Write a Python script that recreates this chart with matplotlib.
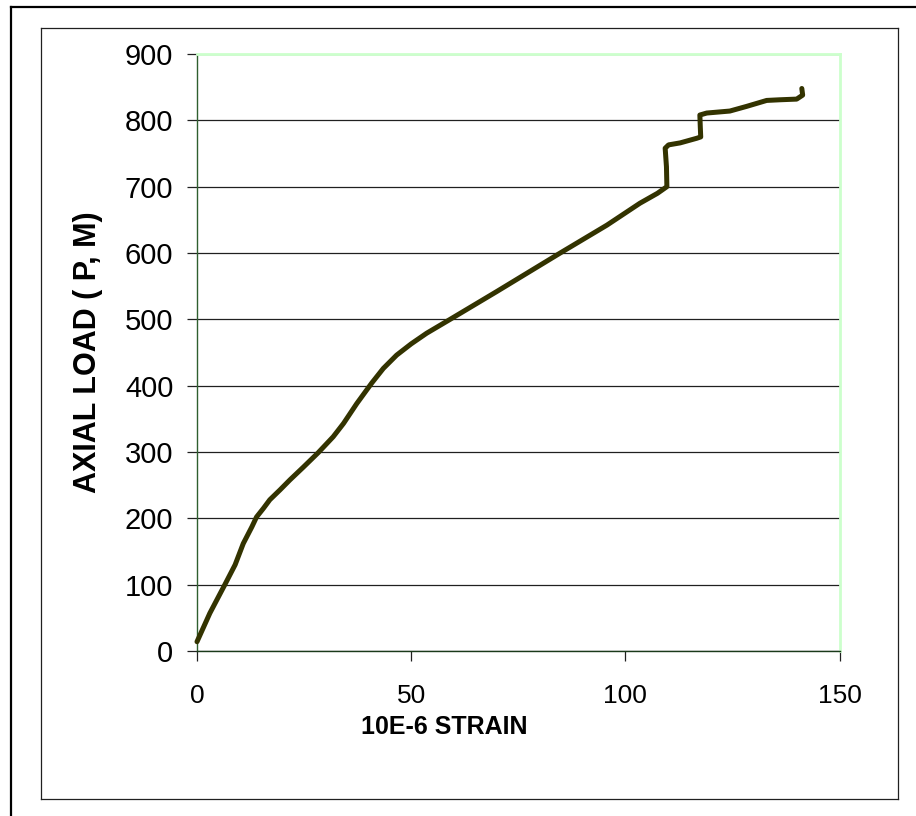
import matplotlib
matplotlib.use("Agg")
import matplotlib.pyplot as plt
from matplotlib.lines import Line2D

plt.rcParams['font.family'] = ['Liberation Sans', 'DejaVu Sans']

strain = [0.0, 3.0, 6.5, 8.9, 10.8, 12.8, 13.9, 15.5, 17.0, 19.4, 21.7, 24.8,
          28.3, 31.8, 34.2, 37.3, 40.8, 43.5, 46.6, 50.0, 53.6, 59.1, 70.0,
          84.8, 95.7, 103.4, 107.5, 109.7, 109.6, 109.3, 110.1, 112.8, 116.7,
          117.6, 117.5, 117.4, 119.0, 124.4, 128.3, 133.0, 136.1, 140.0,
          141.4, 141.2]
load = [14, 57, 100, 130, 162, 187, 202, 215, 228, 243, 258, 277,
        299, 323, 343, 373, 404, 426, 446, 463, 479, 500, 542,
        600, 642, 675, 690, 700, 730, 758, 763, 766, 773,
        775, 790, 808, 811, 814, 821, 830, 831, 832,
        838, 848]

xticks = [0, 50, 100, 150]
yticks = [0, 100, 200, 300, 400, 500, 600, 700, 800, 900]
xlabel = "10E-6 STRAIN"
ylabel = "AXIAL LOAD ( P, M)"

W, H = 916, 816
fig = plt.figure(figsize=(W / 100, H / 100), dpi=100)

def fx(px):
    return px / W

def fy(py):
    return 1 - py / H

# outer border (left and top only visible)
fig.add_artist(Line2D([fx(10.5), fx(10.5)], [fy(6.5), fy(820)], color='black', lw=1.6))
fig.add_artist(Line2D([fx(10.5), fx(920)], [fy(6.5), fy(6.5)], color='black', lw=1.6))
# inner border
for xs, ys in [([41, 41], [28, 799]), ([898, 898], [28, 799]),
               ([41, 898], [28, 28]), ([41, 898], [799, 799])]:
    fig.add_artist(Line2D([fx(x) for x in xs], [fy(y) for y in ys], color='#202020', lw=0.9))

left, right, top, bottom = 197, 839.5, 54, 651
ax = fig.add_axes([fx(left), fy(bottom), fx(right) - fx(left), fy(top) - fy(bottom)])
ax.set_xlim(0, 150)
ax.set_ylim(0, 900)
ax.set_xticks(xticks)
ax.set_yticks(yticks)
ax.set_xticklabels([str(v) for v in xticks], fontsize=19)
ax.set_yticklabels([str(v) for v in yticks], fontsize=21)

ax.grid(axis='y', color='#202020', lw=0.9)
ax.set_axisbelow(True)

ax.spines['left'].set_color('#2f5f2f')
ax.spines['bottom'].set_color('#1a3a1a')
ax.spines['top'].set_color('#ccffcc')
ax.spines['right'].set_color('#ccffcc')
for s in ['left', 'bottom']:
    ax.spines[s].set_linewidth(1.0)
for s in ['top', 'right']:
    ax.spines[s].set_linewidth(2.0)

ax.tick_params(axis='both', direction='out', length=7, width=0.9, color='#202020',
               labelcolor='black')
ax.tick_params(axis='y', pad=10)
ax.tick_params(axis='x', pad=17)

ax.plot(strain, load, color='#333300', lw=3.6, solid_capstyle='round',
        solid_joinstyle='round', clip_on=False, zorder=5)

fig.text(fx(444), fy(727), xlabel, fontsize=18, fontweight='bold', ha='center', va='center')
fig.text(fx(88), fy(352), ylabel, fontsize=22, fontweight='bold', ha='center', va='center',
         rotation=90)

fig.savefig("out.png", dpi=100)
